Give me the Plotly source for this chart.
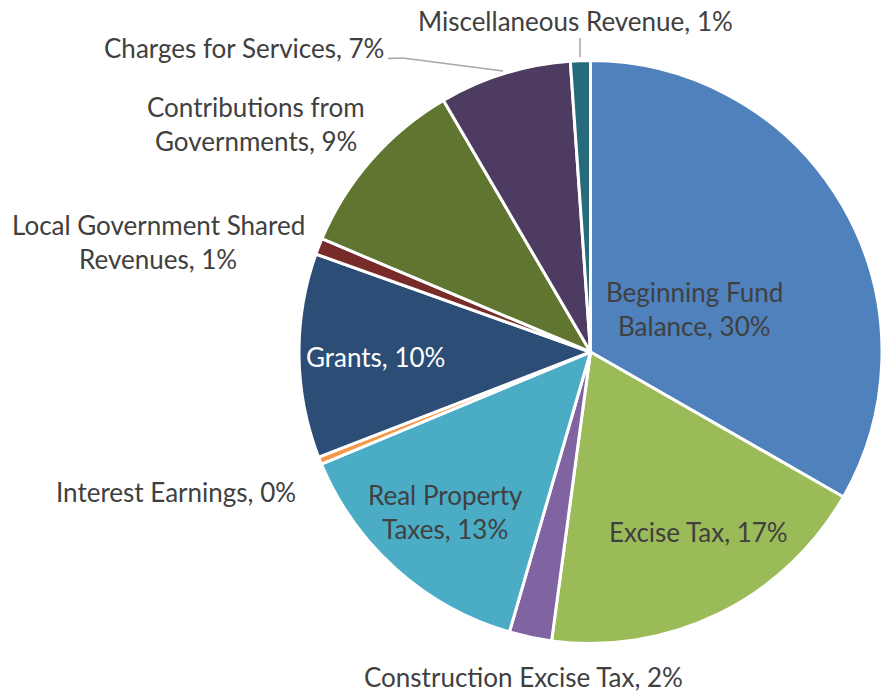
import plotly.graph_objects as go

categories = ["Beginning Fund Balance", "Excise Tax", "Construction Excise Tax",
              "Real Property Taxes", "Interest Earnings", "Grants",
              "Local Government Shared Revenues", "Contributions from Governments",
              "Charges for Services", "Miscellaneous Revenue"]
values = [33.2, 18.8, 2.35, 14.2, 0.4, 11.3, 0.9, 10.2, 7.3, 1.1]
label_pcts = ["30%", "17%", "2%", "13%", "0%", "10%", "1%", "9%", "7%", "1%"]
colors = ["#4F81BD", "#9BBB59", "#8064A2", "#4BACC6", "#F79646", "#2C4D75",
          "#772C2A", "#5F7530", "#4D3B62", "#276A7C"]

W, H = 882, 695
FONT = "Lato"
TXT = "#404040"
FS = 26

cx_pie, cy_pie, r_pie = 591, 352, 292
fig = go.Figure(go.Pie(
    labels=categories, values=values, sort=False, direction="clockwise",
    rotation=0, marker=dict(colors=colors, line=dict(color="white", width=3)),
    textinfo="none", hoverinfo="label+percent", showlegend=False,
    domain=dict(x=[(cx_pie - r_pie) / W, 1.0],
                y=[(H - cy_pie - r_pie) / H, (H - cy_pie + r_pie) / H]),
))

def px(x, y):
    return x / W, 1 - y / H

# (text lines, center x, first line center y, colour) in screen pixels
label_specs = [
    (["Beginning Fund", "Balance, " + label_pcts[0]], 694, 292, TXT),
    (["Excise Tax, " + label_pcts[1]], 698, 532, TXT),
    (["Construction Excise Tax, " + label_pcts[2]], 523, 677, TXT),
    (["Real Property", "Taxes, " + label_pcts[3]], 445, 495, TXT),
    (["Interest Earnings, " + label_pcts[4]], 176, 492, TXT),
    (["Grants, " + label_pcts[5]], 375, 357, "white"),
    (["Local Government Shared", "Revenues, " + label_pcts[6]], 158, 225, TXT),
    (["Contributions from", "Governments, " + label_pcts[7]], 256, 107, TXT),
    (["Charges for Services, " + label_pcts[8]], 244, 48, TXT),
    (["Miscellaneous Revenue, " + label_pcts[9]], 575, 21, TXT),
]
annotations = []
for lines, cx, cy, col in label_specs:
    for i, ln in enumerate(lines):
        ax, ay = px(cx, cy + 34 * i)
        annotations.append(dict(
            x=ax, y=ay, xref="paper", yref="paper", text=ln, showarrow=False,
            xanchor="center", yanchor="middle", borderpad=0,
            font=dict(family=FONT, size=FS, color=col)))

leader_paths = [
    [(388, 58.5), (403, 58), (503, 71)],
    [(580, 38), (580, 57)],
]
shapes = []
for pts in leader_paths:
    for (x0, y0), (x1, y1) in zip(pts[:-1], pts[1:]):
        a0, b0 = px(x0, y0)
        a1, b1 = px(x1, y1)
        shapes.append(dict(type="line", xref="paper", yref="paper",
                           x0=a0, y0=b0, x1=a1, y1=b1,
                           line=dict(color="#A6A6A6", width=1.5)))

fig.update_layout(
    width=W, height=H, margin=dict(l=0, r=0, t=0, b=0),
    paper_bgcolor="white", plot_bgcolor="white",
    annotations=annotations, shapes=shapes,
)
fig.write_html("out.html", config={"displayModeBar": False},
               post_script="document.body.style.margin='0';document.body.style.overflow='hidden';")
